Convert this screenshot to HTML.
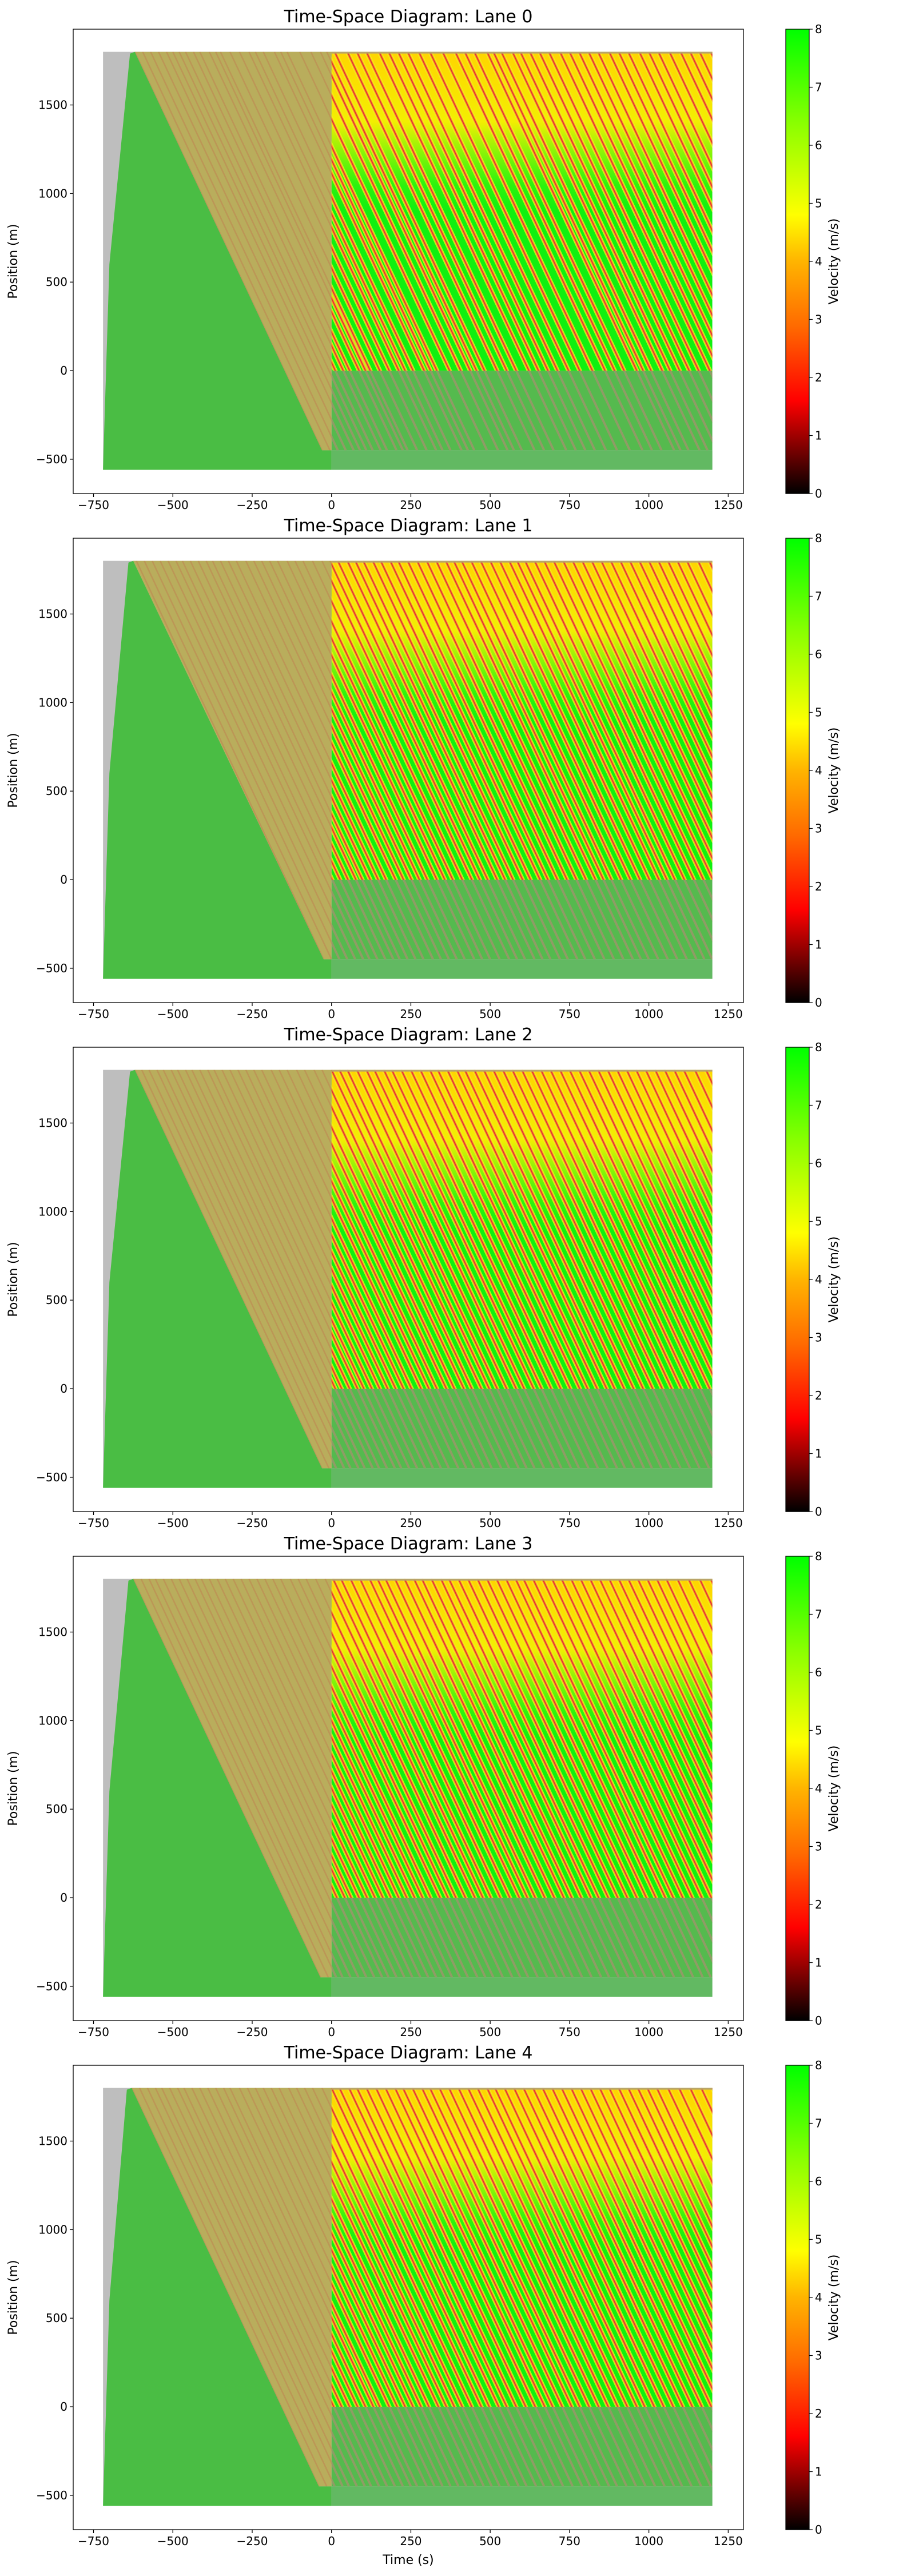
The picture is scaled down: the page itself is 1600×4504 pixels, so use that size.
<!DOCTYPE html>
<html><head><meta charset="utf-8">
<style>
html,body{margin:0;padding:0;background:#fff;}
body{width:1600px;height:4500px;overflow:hidden;font-family:"DejaVu Sans","Liberation Sans",sans-serif;}
svg text{font-family:"DejaVu Sans","Liberation Sans",sans-serif;fill:#000;}
</style></head>
<body>
<svg id="fig" xmlns="http://www.w3.org/2000/svg" width="1600" height="4500" viewBox="0 0 1600 4500">
<defs>
<linearGradient id="cbar" x1="0" y1="1" x2="0" y2="0">
<stop offset="0" stop-color="#000000"/><stop offset="0.2" stop-color="#ff0000"/>
<stop offset="0.36" stop-color="#ff6a00"/><stop offset="0.5" stop-color="#ffb400"/>
<stop offset="0.6" stop-color="#ffff00"/><stop offset="0.8" stop-color="#88ff00"/>
<stop offset="1" stop-color="#00ff00"/>
</linearGradient>
</defs>
</svg>
<script>
// ---- data ----
const lanes = [0, 1, 2, 3, 4];
const xTicks = [-750, -500, -250, 0, 250, 500, 750, 1000, 1250];
const yTicks = [-500, 0, 500, 1000, 1500];
const cbTicks = [0, 1, 2, 3, 4, 5, 6, 7, 8];
// times (s) at which each backward congestion wave reaches -450 m
const waveEndsLane0 = [-30,-5,20,45,70,90,110,130,155,175,205,225,240,270,300,330,350,375,410,430,450,490,525,555,575,600,640,670,700,740,770,800,830,865,900,940,980,1010,1040,1080,1100,1125,1160,1185,1215,1245,1275,1310,1340,1370,1400,1430,1465,1495,1525,1560,1590,1620,1655,1690,1720,1750,1785];
const waveEndsLane1 = [-25,0,25,50,75,100,120,145,170,195,215,240,265,290,320,345,370,395,420,450,475,500,530,560,585,610,640,665,690,720,745,775,800,830,860,890,920,950,975,1000,1030,1060,1090,1120,1150,1175,1200,1230,1260,1290,1320,1350,1380,1410,1440,1470,1500,1530,1560,1590,1620,1650,1680,1710,1745,1780];
const waveEndsLane2 = [-30,-8,15,40,60,85,105,130,150,175,200,220,245,270,295,320,345,370,400,425,450,480,505,535,560,590,615,640,670,700,725,755,780,810,840,870,900,925,955,985,1010,1040,1070,1100,1130,1160,1190,1220,1250,1280,1310,1340,1370,1400,1430,1460,1490,1520,1550,1580,1610,1640,1670,1700,1735,1770];
const waveEndsLane3 = [-35,-10,15,35,60,85,110,135,160,180,205,230,255,280,305,330,355,380,405,430,460,485,510,540,570,595,620,650,680,710,735,760,790,820,850,875,905,935,960,990,1020,1050,1080,1110,1140,1170,1195,1225,1255,1285,1315,1345,1375,1405,1435,1465,1495,1525,1555,1585,1615,1645,1680,1715,1750,1785];
const waveEndsLane4 = [-40,-15,10,35,55,80,105,125,150,175,200,225,250,270,300,325,350,375,400,425,455,480,505,530,560,590,615,645,670,700,730,760,790,815,845,875,900,930,960,990,1020,1050,1080,1105,1135,1165,1195,1225,1255,1285,1315,1345,1375,1405,1435,1465,1495,1525,1555,1585,1615,1650,1685,1720,1755,1790];
const waveEnds = [waveEndsLane0, waveEndsLane1, waveEndsLane2, waveEndsLane3, waveEndsLane4];
const frontStart = [-620, -625, -620, -625, -630];
const frontEnd = [-30, -25, -30, -35, -40];
const waveTravel = 590;

// ---- layout ----
const NS = 'http://www.w3.org/2000/svg';
const svg = document.getElementById('fig');
const AX_L = 128, AX_W = 1172, AX_H = 812, TOP0 = 51, STEP = 890;
const T_MIN = -814, T_MAX = 1298, P_MIN = -694, P_MAX = 1928;
function mk(tag, attrs, parent) {
  const e = document.createElementNS(NS, tag);
  for (const k in attrs) e.setAttribute(k, attrs[k]);
  (parent || svg).appendChild(e);
  return e;
}
lanes.forEach((lane, i) => {
  const top = TOP0 + STEP * i;
  const xs = t => AX_L + (t - T_MIN) * AX_W / (T_MAX - T_MIN);
  const ys = p => top + (P_MAX - p) * AX_H / (P_MAX - P_MIN);
  const g = mk('g', {});
  
  

  const cpU = mk('clipPath', {id: 'cu' + i}, g);
  mk('rect', {x: xs(0), y: ys(1800), width: xs(1200) - xs(0), height: ys(0) - ys(1800)}, cpU);
  const cpL = mk('clipPath', {id: 'cl' + i}, g);
  mk('rect', {x: xs(0), y: ys(0), width: xs(1200) - xs(0), height: ys(-450) - ys(0)}, cpL);
  const cpO = mk('clipPath', {id: 'co' + i}, g);
  mk('polygon', {points: `${xs(frontStart[i])},${ys(1800)} ${xs(0)},${ys(1800)} ${xs(0)},${ys(-450)} ${xs(frontEnd[i])},${ys(-450)}`}, cpO);
  const grad = mk('linearGradient', {id: 'yg' + i, x1: 0, y1: 0, x2: 0, y2: 1}, g);
  mk('stop', {offset: 0, 'stop-color': '#ffd400', 'stop-opacity': 1}, grad);
  mk('stop', {offset: 0.22, 'stop-color': '#ffee00', 'stop-opacity': 0.95}, grad);
  mk('stop', {offset: 0.42, 'stop-color': '#ccff00', 'stop-opacity': 0.15}, grad);
  mk('stop', {offset: 0.5, 'stop-color': '#ccff00', 'stop-opacity': 0}, grad);
  mk('stop', {offset: 1, 'stop-color': '#ffff00', 'stop-opacity': 0}, grad);

  const bg = mk('rect', {x: xs(-720), y: ys(1800), width: xs(1200) - xs(-720), height: ys(-560) - ys(1800), fill: '#bebebe'}, g);
  
  

  const ol = mk('polygon', {points: `${xs(frontStart[i])},${ys(1800)} ${xs(0)},${ys(1800)} ${xs(0)},${ys(-450)} ${xs(frontEnd[i])},${ys(-450)}`, fill: '#b9ad5c'}, g);
  
  
  const og = mk('g', {'clip-path': `url(#co${i})`}, g);
  waveEnds[i].forEach(te => {
    const l = mk('line', {x1: xs(te - waveTravel), y1: ys(1800), x2: xs(te), y2: ys(-450), stroke: '#c07a50', 'stroke-width': 2.5, 'stroke-opacity': 0.45}, og);
    
    
  });

  const gr = mk('polygon', {points: `${xs(-720)},${ys(-555)} ${xs(-700)},${ys(600)} ${xs(frontStart[i] - 15)},${ys(1790)} ${xs(frontStart[i])},${ys(1800)} ${xs(frontEnd[i])},${ys(-450)} ${xs(0)},${ys(-450)} ${xs(0)},${ys(-560)} ${xs(-720)},${ys(-560)}`, fill: '#4abd44'}, g);
  
  

  const eb = mk('rect', {x: xs(0), y: ys(-450), width: xs(1200) - xs(0), height: ys(-560) - ys(-450), fill: '#62b962'}, g);
  
  

  const ug = mk('g', {'clip-path': `url(#cu${i})`}, g);
  
  
  mk('rect', {x: xs(0), y: ys(1800), width: xs(1200) - xs(0), height: ys(0) - ys(1800), fill: '#10f010'}, ug);
  mk('rect', {x: xs(0), y: ys(1800), width: xs(1200) - xs(0), height: ys(0) - ys(1800), fill: `url(#yg${i})`}, ug);
  waveEnds[i].forEach(te => {
    const w = mk('g', {}, ug);
    
    
    const a = {x1: xs(te - waveTravel), y1: ys(1800), x2: xs(te), y2: ys(-450)};
    mk('line', Object.assign({stroke: '#f0f020', 'stroke-width': 8, 'stroke-opacity': 0.8}, a), w);
    mk('line', Object.assign({stroke: '#ff9a20', 'stroke-width': 4.5}, a), w);
    mk('line', Object.assign({stroke: '#ff4030', 'stroke-width': 2.2}, a), w);
    mk('line', Object.assign({stroke: '#70404a', 'stroke-width': 0.8, 'stroke-opacity': 0.5}, a), w);
  });

  const lg = mk('g', {'clip-path': `url(#cl${i})`}, g);
  
  
  mk('rect', {x: xs(0), y: ys(0), width: xs(1200) - xs(0), height: ys(-450) - ys(0), fill: '#55ba4e'}, lg);
  waveEnds[i].forEach(te => {
    const a = {x1: xs(te - waveTravel), y1: ys(1800), x2: xs(te), y2: ys(-450)};
    const l = mk('line', Object.assign({stroke: '#a89070', 'stroke-width': 4, 'stroke-opacity': 0.7}, a), lg);
    
    
  });
  mk('rect', {x: xs(0), y: ys(1800), width: xs(1200) - xs(0), height: 3, fill: '#b9a46a'}, g);

  const fr = mk('rect', {x: AX_L, y: top, width: AX_W, height: AX_H, fill: 'none', stroke: '#000', 'stroke-width': 1.3}, g);
  
  

  xTicks.forEach(t => {
    mk('line', {x1: xs(t), y1: top + AX_H, x2: xs(t), y2: top + AX_H + 6, stroke: '#000', 'stroke-width': 1.3}, g);
    const tx = mk('text', {x: xs(t), y: top + AX_H + 27, 'font-size': 20, 'text-anchor': 'middle'}, g);
    tx.textContent = t < 0 ? '\u2212' + (-t) : String(t);
    
    
  });
  yTicks.forEach(p => {
    mk('line', {x1: AX_L - 6, y1: ys(p), x2: AX_L, y2: ys(p), stroke: '#000', 'stroke-width': 1.3}, g);
    const tx = mk('text', {x: AX_L - 10, y: ys(p) + 7, 'font-size': 20, 'text-anchor': 'end'}, g);
    tx.textContent = p < 0 ? '\u2212' + (-p) : String(p);
    
    
  });
  const yl = mk('text', {x: 0, y: 0, 'font-size': 22, 'text-anchor': 'middle', transform: `translate(30,${top + AX_H / 2}) rotate(-90)`}, g);
  yl.textContent = 'Position (m)';
  
  
  const tt = mk('text', {x: AX_L + AX_W / 2, y: top - 12, 'font-size': 30, 'text-anchor': 'middle'}, g);
  tt.textContent = 'Time-Space Diagram: Lane ' + lane;
  
  
  if (i === lanes.length - 1) {
    const xl = mk('text', {x: AX_L + AX_W / 2, y: top + AX_H + 60, 'font-size': 22, 'text-anchor': 'middle'}, g);
    xl.textContent = 'Time (s)';
    
    
  }

  const CB_X = 1374, CB_W = 41;
  const cb = mk('rect', {x: CB_X, y: top, width: CB_W, height: AX_H, fill: 'url(#cbar)', stroke: '#000', 'stroke-width': 1.2}, g);
  
  
  cbTicks.forEach(v => {
    const y = top + AX_H - v / 8 * AX_H;
    mk('line', {x1: CB_X + CB_W, y1: y, x2: CB_X + CB_W + 6, y2: y, stroke: '#000', 'stroke-width': 1.2}, g);
    const tx = mk('text', {x: CB_X + CB_W + 10, y: y + 7, 'font-size': 20}, g);
    tx.textContent = String(v);
    
    
  });
  const cl = mk('text', {x: 0, y: 0, 'font-size': 22, 'text-anchor': 'middle', transform: `translate(1465,${top + AX_H / 2}) rotate(-90)`}, g);
  cl.textContent = 'Velocity (m/s)';
  
  
});
</script>
</body></html>
